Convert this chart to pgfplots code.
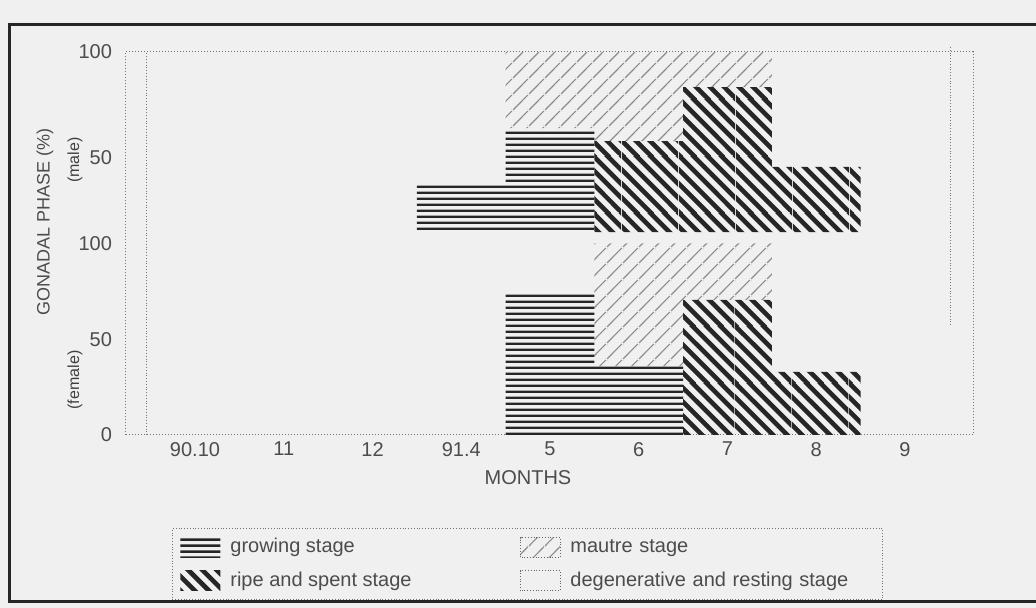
\documentclass[border=0pt]{standalone}
\usepackage{pgfplots}
\pgfplotsset{compat=1.18}
\usepackage{pgfplotstable}
\usepackage{fontspec}
\setmainfont{Liberation Sans}
\usetikzlibrary{patterns}

\newcommand\pp[2]{\pgfqpoint{#1pt}{#2pt}}
\newcommand\quadp[8]{\pgfpathmoveto{\pp{#1}{#2}}\pgfpathlineto{\pp{#3}{#4}}\pgfpathlineto{\pp{#5}{#6}}\pgfpathlineto{\pp{#7}{#8}}\pgfpathclose}
% horizontal lines (growing stage)
\pgfdeclarepatternformonly{growlines}{\pp{0}{0}}{\pp{400}{3.1}}{\pp{400}{3.1}}{%
  \pgfpathrectangle{\pp{0}{0}}{\pp{400}{1.4}}\pgfusepath{fill}}
% north west lines (ripe and spent): period 7.07pt, 4 periods per tile
\pgfdeclarepatternformonly{ripelines}{\pp{0}{0}}{\pp{28.28}{28.28}}{\pp{28.28}{28.28}}{%
  \pgfpathmoveto{\pp{0}{0}}\pgfpathlineto{\pp{1.63}{0}}\pgfpathlineto{\pp{0}{1.63}}\pgfpathclose
  \quadp{0}{5.44}{5.44}{0}{8.70}{0}{0}{8.70}
  \quadp{0}{12.51}{12.51}{0}{15.77}{0}{0}{15.77}
  \quadp{0}{19.58}{19.58}{0}{22.84}{0}{0}{22.84}
  \pgfpathmoveto{\pp{0}{26.65}}\pgfpathlineto{\pp{26.65}{0}}\pgfpathlineto{\pp{28.28}{0}}%
  \pgfpathlineto{\pp{28.28}{1.63}}\pgfpathlineto{\pp{1.63}{28.28}}\pgfpathlineto{\pp{0}{28.28}}\pgfpathclose
  \quadp{5.44}{28.28}{28.28}{5.44}{28.28}{8.70}{8.70}{28.28}
  \quadp{12.51}{28.28}{28.28}{12.51}{28.28}{15.77}{15.77}{28.28}
  \quadp{19.58}{28.28}{28.28}{19.58}{28.28}{22.84}{22.84}{28.28}
  \pgfpathmoveto{\pp{28.28}{28.28}}\pgfpathlineto{\pp{26.65}{28.28}}\pgfpathlineto{\pp{28.28}{26.65}}\pgfpathclose
  \pgfusepath{fill}}
% north east lines (mature)
\pgfdeclarepatternformonly{matlines}{\pp{0}{0}}{\pp{7.78}{7.78}}{\pp{7.78}{7.78}}{%
  \pgfpathmoveto{\pp{0}{0}}\pgfpathlineto{\pp{0.4}{0}}\pgfpathlineto{\pp{7.78}{7.38}}%
  \pgfpathlineto{\pp{7.78}{7.78}}\pgfpathlineto{\pp{7.38}{7.78}}\pgfpathlineto{\pp{0}{0.4}}\pgfpathclose
  \pgfpathmoveto{\pp{0}{7.38}}\pgfpathlineto{\pp{0}{7.78}}\pgfpathlineto{\pp{0.4}{7.78}}\pgfpathclose
  \pgfpathmoveto{\pp{7.38}{0}}\pgfpathlineto{\pp{7.78}{0}}\pgfpathlineto{\pp{7.78}{0.4}}\pgfpathclose
  \pgfusepath{fill}}

% positions 0..8 = 90.10, 11, 12, 91.4, 5, 6, 7, 8, 9
% female in %, male drawn above a small gap (axis units, 106..200)
\pgfplotstableread{
x  fgrow fripe fmat fdeg gap  mgrow mripe mmat mdeg
0  0     0     0    100  6    0     0     0    94
1  0     0     0    100  6    0     0     0    94
2  0     0     0    100  6    0     0     0    94
3  0     0     0    100  6    25.6  0     0    68.4
4  75    0     0    25   6    54.3  0     39.7 0
5  36    0     64   0    6    0     47.5  46.5 0
6  0     70.5  29.5 0    6    0     75.7  18.3 0
7  0     33    0    67   6    0     34    0    60
8  0     0     0    100  6    0     0     0    94
}\gonad

\begin{document}
\begin{tikzpicture}[
  growing/.style={draw=none, pattern=growlines, pattern color=black!85},
  ripe/.style={draw=none, pattern=ripelines, pattern color=black!85},
  mature/.style={draw=none, pattern=matlines, pattern color=black!45},
]
\useasboundingbox (-62.5pt,-86.5pt) rectangle (455.5pt,217.5pt);
\fill[black!6] (-62.5pt,-86.5pt) rectangle (455.5pt,217.5pt);
\draw[line width=1.5pt, black!85] (460pt,205pt) -- (-57.5pt,205pt) -- (-57.5pt,-83.5pt) -- (460pt,-83.5pt);
\begin{axis}[
  at={(0pt,0pt)}, anchor=south west,
  scale only axis, width=424pt, height=191.5pt,
  xmin=-0.789, xmax=8.766, ymin=0, ymax=200,
  enlargelimits=false,
  ybar stacked, bar width=1,
  axis line style={densely dotted, black!55, line width=0.5pt},
  xtick={0,...,8}, xticklabels={90.10,11,12,91.4,5,6,7,8,9},
  ytick={0,50,100,145,200}, yticklabels={0,50,100,50,100},
  major tick length=0pt,
  tick label style={font=\fontsize{10}{12}\selectfont, text=black!70},
  yticklabel style={xshift=-3pt},
  /pgf/number format/assume math mode=true,
  legend image code/.code={\path[#1] (0pt,-5pt) rectangle (20pt,5pt);},
  legend columns=2,
  legend cell align=left,
  legend style={at={(0.0554,-0.2428)}, anchor=north west,
    draw=black!55, densely dotted, fill=none, text=black!70,
    font=\fontsize{10}{12}\selectfont,
    inner xsep=4pt, inner ysep=3pt, row sep=4pt,
    /tikz/every odd column/.append style={column sep=3pt},
    /tikz/column 2/.style={column sep=52pt},
    /tikz/column 4/.append style={text width=150pt}},
]
\addlegendimage{growing, solid}
\addlegendentry{growing stage}
\addlegendimage{mature, solid, draw=black!60, densely dotted}
\addlegendentry{mautre stage}
\addlegendimage{ripe, solid}
\addlegendentry{ripe and spent stage}
\addlegendimage{draw=black!60, densely dotted, fill=none}
\addlegendentry{degenerative and resting stage}

\addplot[growing, draw=none] table[x=x, y=fgrow] {\gonad};
\addplot[ripe, draw=none] table[x=x, y=fripe] {\gonad};
\addplot[mature, draw=none] table[x=x, y=fmat] {\gonad};
\addplot[draw=none, fill=none] table[x=x, y=fdeg] {\gonad};
\addplot[draw=none, fill=none] table[x=x, y=gap] {\gonad};
\addplot[growing, draw=none] table[x=x, y=mgrow] {\gonad};
\addplot[ripe, draw=none] table[x=x, y=mripe] {\gonad};
\addplot[mature, draw=none] table[x=x, y=mmat] {\gonad};
\addplot[draw=none, fill=none] table[x=x, y=mdeg] {\gonad};
\end{axis}
\draw[densely dotted, black!55] (10.5pt,0pt) -- (10.5pt,191.5pt);
\draw[densely dotted, black!55] (412.5pt,55pt) -- (412.5pt,195pt);
\node[rotate=90, text=black!70, font=\fontsize{9}{11}\selectfont] at (-40pt,106.5pt) {GONADAL PHASE (\%)};
\node[rotate=90, text=black!75, font=\fontsize{8}{10}\selectfont] at (-25pt,137.5pt) {(male)};
\node[rotate=90, text=black!75, font=\fontsize{8}{10}\selectfont] at (-25pt,27.5pt) {(female)};
\node[text=black!70, font=\fontsize{10}{12}\selectfont] at (201.5pt,-21.5pt) {MONTHS};
\end{tikzpicture}
\end{document}
